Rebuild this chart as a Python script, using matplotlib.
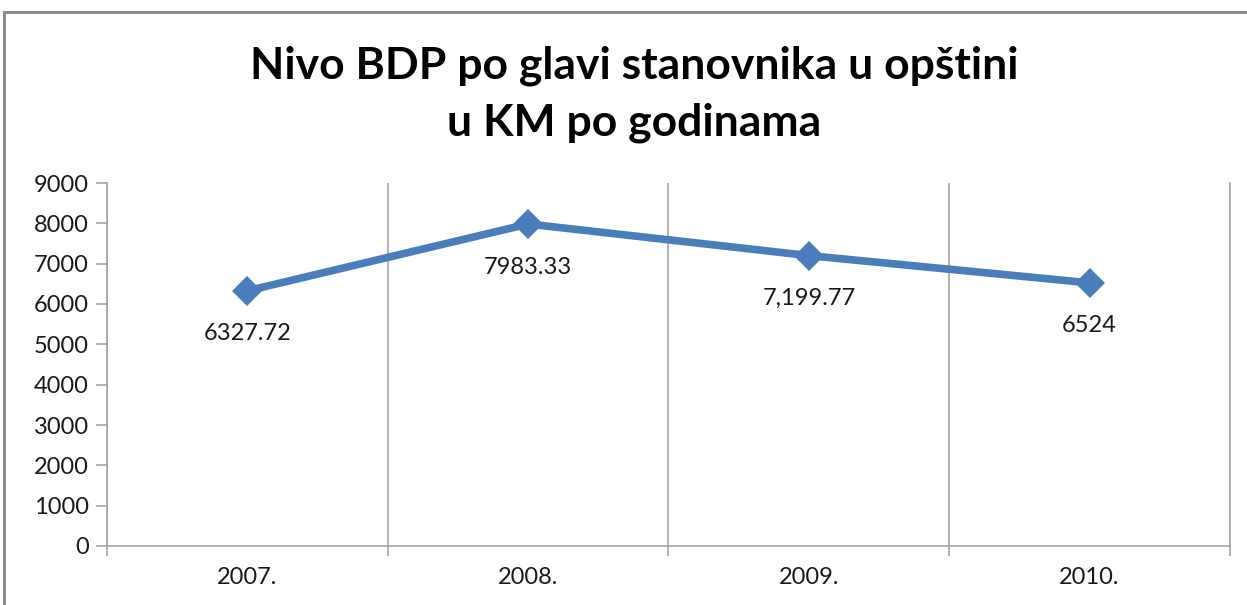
import matplotlib
matplotlib.use("Agg")
import matplotlib.pyplot as plt
from matplotlib.patches import Rectangle
import numpy as np

# data
years = ['2007.', '2008.', '2009.', '2010.']
values = [6327.72, 7983.33, 7199.77, 6524]
value_labels = ['6327.72', '7983.33', '7,199.77', '6524']
y_ticks = list(range(0, 9001, 1000))

title = 'Nivo BDP po glavi stanovnika u opštini\nu KM po godinama'

line_color = '#4A7EBB'
grid_color = '#A6A6A6'
text_color = '#1A1A1A'

plt.rcParams['font.family'] = ['Lato', 'DejaVu Sans']

W, H = 1247, 605
fig = plt.figure(figsize=(W / 100, H / 100), dpi=100)

# outer chart border (runs off the right and bottom edges like the reference)
fig.patches.append(Rectangle((4 / W, -0.1), 1.2, 1 - 12 / H + 0.1,
                             transform=fig.transFigure, fill=False,
                             edgecolor='#8C8C8C', linewidth=2.2))

ax = fig.add_axes([107 / W, 1 - 546 / H, (1230 - 107) / W, (546 - 183) / H])

x = np.arange(len(years))
ax.plot(x, values, color=line_color, linewidth=5.5, marker='D',
        markersize=15, markeredgewidth=0, solid_joinstyle='round', zorder=3)

for xi, v, lab in zip(x, values, value_labels):
    ax.annotate(lab, (xi, v), xytext=(0, -31), textcoords='offset points',
                ha='center', va='center', fontsize=17, color=text_color)

ax.set_xlim(-0.5, len(years) - 0.5)
ax.set_ylim(0, 9000)
ax.set_yticks(y_ticks)
ax.set_xticks(x)
ax.set_xticklabels(years)
ax.set_xticks(np.arange(-0.5, len(years)), minor=True)
ax.grid(True, which='minor', axis='x', color=grid_color, linewidth=1.2)

ax.tick_params(axis='y', which='major', direction='out', length=8, width=1.2,
               color=grid_color, labelsize=17, labelcolor=text_color, pad=5)
ax.tick_params(axis='x', which='major', length=0, labelsize=17,
               labelcolor=text_color, pad=15)
ax.tick_params(axis='x', which='minor', direction='out', length=7, width=1.2,
               color=grid_color)

for side in ['left', 'bottom', 'right']:
    ax.spines[side].set_color(grid_color)
    ax.spines[side].set_linewidth(1.2)
ax.spines['top'].set_visible(False)

fig.text(634 / W, 1 - 94 / H, title, ha='center', va='center',
         fontsize=32, fontweight='bold', color='black', linespacing=1.5)

fig.savefig('out.png', dpi=100)
